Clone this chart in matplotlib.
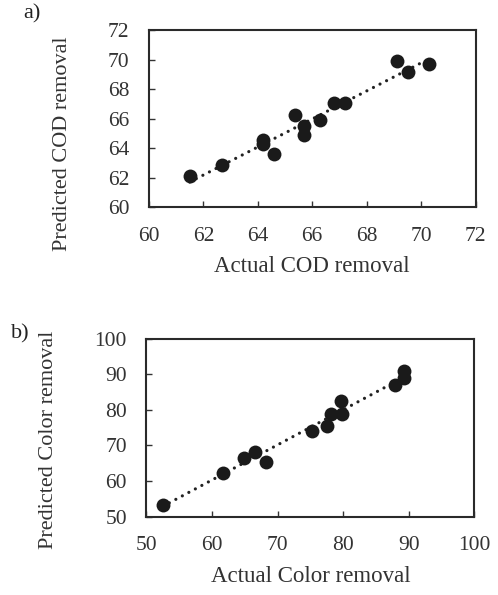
import numpy as np
import matplotlib
matplotlib.use("Agg")
import matplotlib.pyplot as plt

plt.rcParams["font.family"] = ["Liberation Serif", "DejaVu Serif"]

# a) COD removal: actual vs predicted
cod_actual = [61.5, 62.7, 64.2, 64.2, 64.6, 65.35, 65.7, 65.7, 66.3, 66.8, 67.2, 69.1, 69.5, 70.3]
cod_pred = [62.1, 62.9, 64.6, 64.3, 63.6, 66.3, 65.55, 64.9, 65.9, 67.1, 67.1, 69.9, 69.2, 69.75]

# b) Color removal: actual vs predicted
col_actual = [52.5, 61.7, 64.9, 66.5, 68.3, 75.3, 77.5, 78.2, 79.8, 79.7, 87.9, 89.3, 89.2]
col_pred = [53.3, 62.2, 66.4, 68.3, 65.3, 74.1, 75.6, 78.8, 78.8, 82.6, 87.0, 88.9, 91.0]

fig = plt.figure(figsize=(4.98, 5.95), dpi=100)
ax_a = fig.add_axes([0.299, 0.6513, 0.656, 0.2975])
ax_b = fig.add_axes([0.294, 0.1316, 0.6586, 0.2992])


def panel(ax, x, y, lim, ticks, xlabel, ylabel, ylab_pos):
    x = np.asarray(x)
    y = np.asarray(y)
    ax.scatter(x, y, s=100, color="#1a1a1a", zorder=3, linewidths=0)
    # linear trendline through the points
    k, b = np.polyfit(x, y, 1)
    xs = np.array([x.min(), x.max() - 0.02 * (x.max() - x.min())])
    ax.plot(xs, k * xs + b, color="#222222", lw=2.3,
            ls=(0, (0.01, 2.3)), dash_capstyle="round", zorder=2)
    ax.set_xlim(*lim)
    ax.set_ylim(*lim)
    ax.set_xticks(ticks)
    ax.set_yticks(ticks)
    ax.tick_params(direction="in", length=4, width=1, labelsize=15.5,
                   colors="#333333", labelcolor="#333333", pad=14)
    for sp in ax.spines.values():
        sp.set_linewidth(1.5)
        sp.set_color("#2a2a2a")
    ax.set_xlabel(xlabel, fontsize=16.5, color="#333333")
    ax.set_ylabel(ylabel, fontsize=16, color="#333333")
    ax.xaxis.set_label_coords(0.5, -0.336)
    ax.yaxis.set_label_coords(*ylab_pos)
    ax.xaxis.label.set_va("center")
    ax.yaxis.label.set_va("center")


panel(ax_a, cod_actual, cod_pred, (60, 72), [60, 62, 64, 66, 68, 70, 72],
      "Actual COD removal", "Predicted COD removal", (-0.266, 0.36))
panel(ax_b, col_actual, col_pred, (50, 100), [50, 60, 70, 80, 90, 100],
      "Actual Color removal", "Predicted Color removal", (-0.30, 0.43))

fig.text(32 / 498, 1 - 14 / 595, "a)", fontsize=16, color="#222222",
         ha="center", va="center")
fig.text(20 / 498, 1 - 334 / 595, "b)", fontsize=16, color="#222222",
         ha="center", va="center")

fig.savefig("out.png", dpi=100)
